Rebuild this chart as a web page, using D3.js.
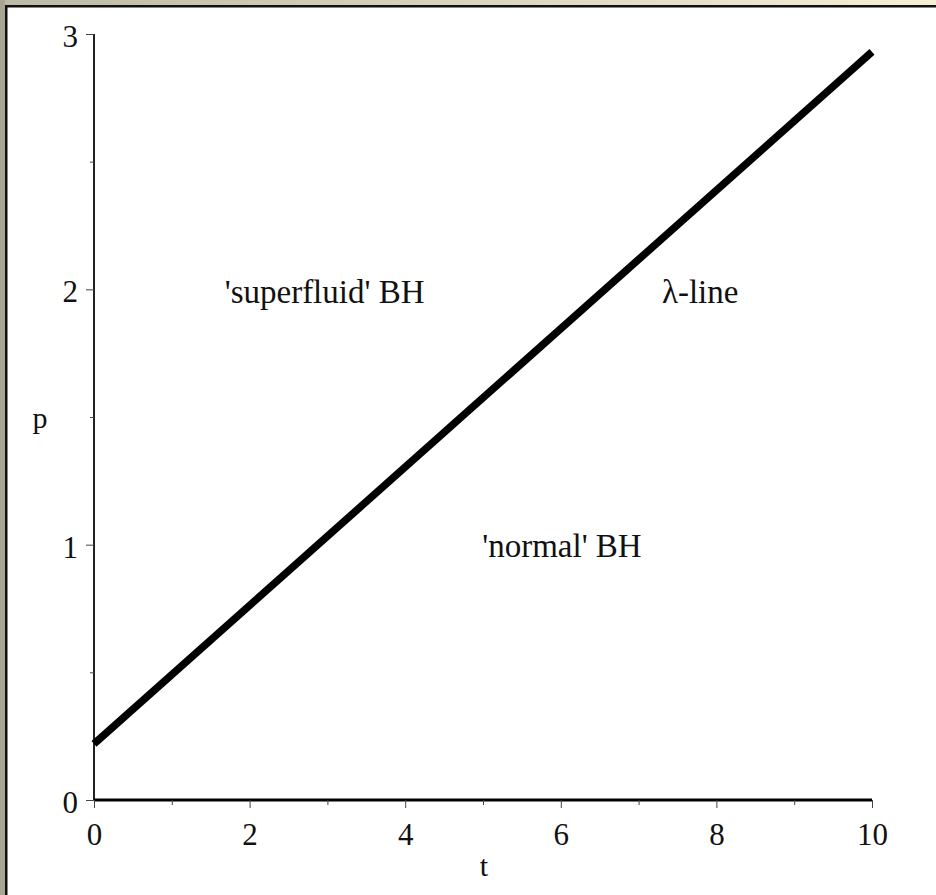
<!DOCTYPE html>
<html><head><meta charset="utf-8">
<script src="https://cdn.jsdelivr.net/npm/d3@7"></script>
<style>html,body{margin:0;padding:0;background:#fff;overflow:hidden}</style>
</head><body>
<script>
const tValues = [0, 10];
const pValues = [0.22, 2.93];
const xTicks = [0, 2, 4, 6, 8, 10];
const xMinor = [1, 3, 5, 7, 9];
const yTicks = [0, 1, 2, 3];
const yMinor = [0.5, 1.5, 2.5];
const labels = [
  {text: "'superfluid' BH", t: 1.68, p: 1.946},
  {text: "λ-line", t: 7.30, p: 1.946},
  {text: "'normal' BH", t: 4.99, p: 0.953}
];

const W = 936, H = 895;
const svg = d3.select("body").append("svg").attr("width", W).attr("height", H);
const defs = svg.append("defs");
const g1 = defs.append("linearGradient").attr("id","topg").attr("x1","0").attr("x2","1");
g1.append("stop").attr("offset","0").attr("stop-color","#bcb9a6");
g1.append("stop").attr("offset","1").attr("stop-color","#f6efd8");
svg.append("rect").attr("width", W).attr("height", H).attr("fill", "#fff");
svg.append("rect").attr("x",0).attr("y",0).attr("width",W).attr("height",5).attr("fill","url(#topg)");
svg.append("rect").attr("x",0).attr("y",0).attr("width",5).attr("height",H).attr("fill","#a8a592");
svg.append("rect").attr("x",5).attr("y",5).attr("width",W-5).attr("height",2.5).attr("fill","#111");
svg.append("rect").attr("x",5).attr("y",5).attr("width",2.5).attr("height",H-5).attr("fill","#111");

const x = d3.scaleLinear().domain([0, 10]).range([94, 872]);
const y = d3.scaleLinear().domain([0, 3]).range([800, 34]);
const font = "'Liberation Serif', 'Times New Roman', serif";

// y axis
const yAxis = svg.append("g").attr("transform", `translate(${x(0)},0)`)
  .call(d3.axisLeft(y).tickValues(yTicks).tickSize(8).tickFormat(d3.format("d")));
yAxis.select(".domain").attr("stroke", "#222").attr("stroke-width", 2).attr("d", `M0,${y(3)}V${y(0)}`);
yAxis.selectAll(".tick line").attr("stroke", "#444").attr("stroke-width", 1);
yAxis.selectAll(".tick text").attr("font-family", font).attr("font-size", 31).attr("fill", "#111").attr("x", -16).attr("dy", "0.4em");
svg.append("g").attr("transform", `translate(${x(0)},0)`)
  .call(d3.axisLeft(y).tickValues(yMinor).tickSize(4).tickFormat(""))
  .call(s => { s.select(".domain").remove(); s.selectAll("line").attr("stroke", "#444"); });

// x axis
const xAxis = svg.append("g").attr("transform", `translate(0,${y(0)})`)
  .call(d3.axisBottom(x).tickValues(xTicks).tickSize(8).tickFormat(d3.format("d")));
xAxis.select(".domain").attr("stroke", "#000").attr("stroke-width", 3).attr("d", `M${x(0)},0H${x(10)}`);
xAxis.selectAll(".tick line").attr("stroke", "#444").attr("stroke-width", 1);
xAxis.selectAll(".tick text").attr("font-family", font).attr("font-size", 31).attr("fill", "#111").attr("y", 45).attr("dy", "0");
svg.append("g").attr("transform", `translate(0,${y(0)})`)
  .call(d3.axisBottom(x).tickValues(xMinor).tickSize(5).tickFormat(""))
  .call(s => { s.select(".domain").remove(); s.selectAll("line").attr("stroke", "#444"); });

// axis labels
svg.append("text").attr("x", 40).attr("y", 428).attr("text-anchor", "middle")
  .attr("font-family", font).attr("font-size", 30).attr("fill", "#111").text("p");
svg.append("text").attr("x", 484).attr("y", 876).attr("text-anchor", "middle")
  .attr("font-family", font).attr("font-size", 30).attr("fill", "#111").text("t");

// line
const data = tValues.map((t, i) => ({t, p: pValues[i]}));
svg.append("path").datum(data)
  .attr("d", d3.line().x(d => x(d.t)).y(d => y(d.p)))
  .attr("fill", "none").attr("stroke", "#000").attr("stroke-width", 7.5);

// region labels
svg.selectAll("text.lab").data(labels).enter().append("text").attr("class", "lab")
  .attr("x", d => x(d.t)).attr("y", d => y(d.p))
  .attr("font-family", font).attr("font-size", 33).attr("fill", "#111")
  .text(d => d.text);
</script>
</body></html>
